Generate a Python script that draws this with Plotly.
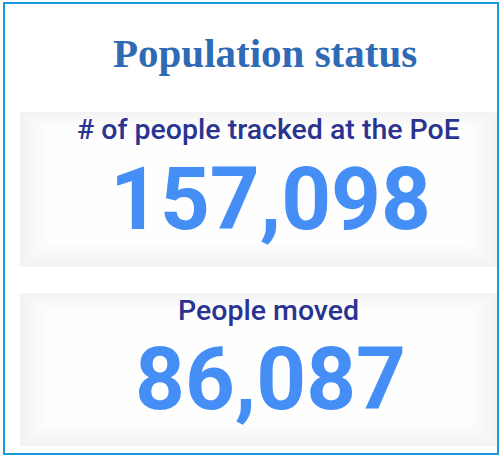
import plotly.graph_objects as go

# ---- data ----
title_text = "Population status"
kpi_labels = ["# of people tracked at the PoE", "People moved"]
kpi_values = [157098, 86087]

# ---- layout constants (pixel space) ----
W, H = 501, 457
panels = [(20, 497, 112, 267), (20, 497, 293, 446)]
label_y = [129, 310]
value_y = [199, 379]

fig = go.Figure()

shapes = []
# outer border
shapes.append(dict(type="rect", x0=4, x1=498, y0=3, y1=454,
                   line=dict(color="#1A9BDC", width=2), fillcolor="rgba(0,0,0,0)", layer="above"))

# panel backgrounds (approximate soft gradient with nested rects)
grays = ["#F3F3F3", "#F4F4F4", "#F5F5F5", "#F6F6F6", "#F7F7F7", "#F8F8F8",
         "#F9F9F9", "#FAFAFA", "#FBFBFB", "#FCFCFC", "#FDFDFD", "#FEFEFE"]
for (x0, x1, y0, y1) in panels:
    for i, c in enumerate(grays):
        inset = i * 2.5
        shapes.append(dict(type="rect", x0=x0 + inset, x1=x1 - inset,
                           y0=y0 + inset * 0.6, y1=y1 - inset * 0.9,
                           line=dict(width=0), fillcolor=c, layer="below"))

annotations = [dict(x=265, y=53, text=title_text, showarrow=False,
                    xanchor="center", yanchor="middle",
                    font=dict(family="Liberation Serif, Times New Roman, serif",
                              size=41, color="#2F6AB5", weight="bold"))]
for lab, val, ly, vy in zip(kpi_labels, kpi_values, label_y, value_y):
    annotations.append(dict(x=268, y=ly, text=lab, showarrow=False,
                            xanchor="center", yanchor="middle",
                            font=dict(family="Roboto, sans-serif", size=28.5,
                                      color="#2A3490", weight=500)))
    annotations.append(dict(x=270, y=vy, text=f"{val:,}", showarrow=False,
                            xanchor="center", yanchor="middle",
                            font=dict(family="Roboto, sans-serif",
                                      size=87, color="#448EF6", weight="bold")))

fig.update_layout(
    width=W, height=H, margin=dict(l=0, r=0, t=0, b=0),
    paper_bgcolor="white", plot_bgcolor="white",
    xaxis=dict(range=[0, W], visible=False, fixedrange=True),
    yaxis=dict(range=[H, 0], visible=False, fixedrange=True),
    shapes=shapes, annotations=annotations, showlegend=False,
)

fig.write_html("out.html", config={"displayModeBar": False},
               post_script="document.body.style.margin='0';")
